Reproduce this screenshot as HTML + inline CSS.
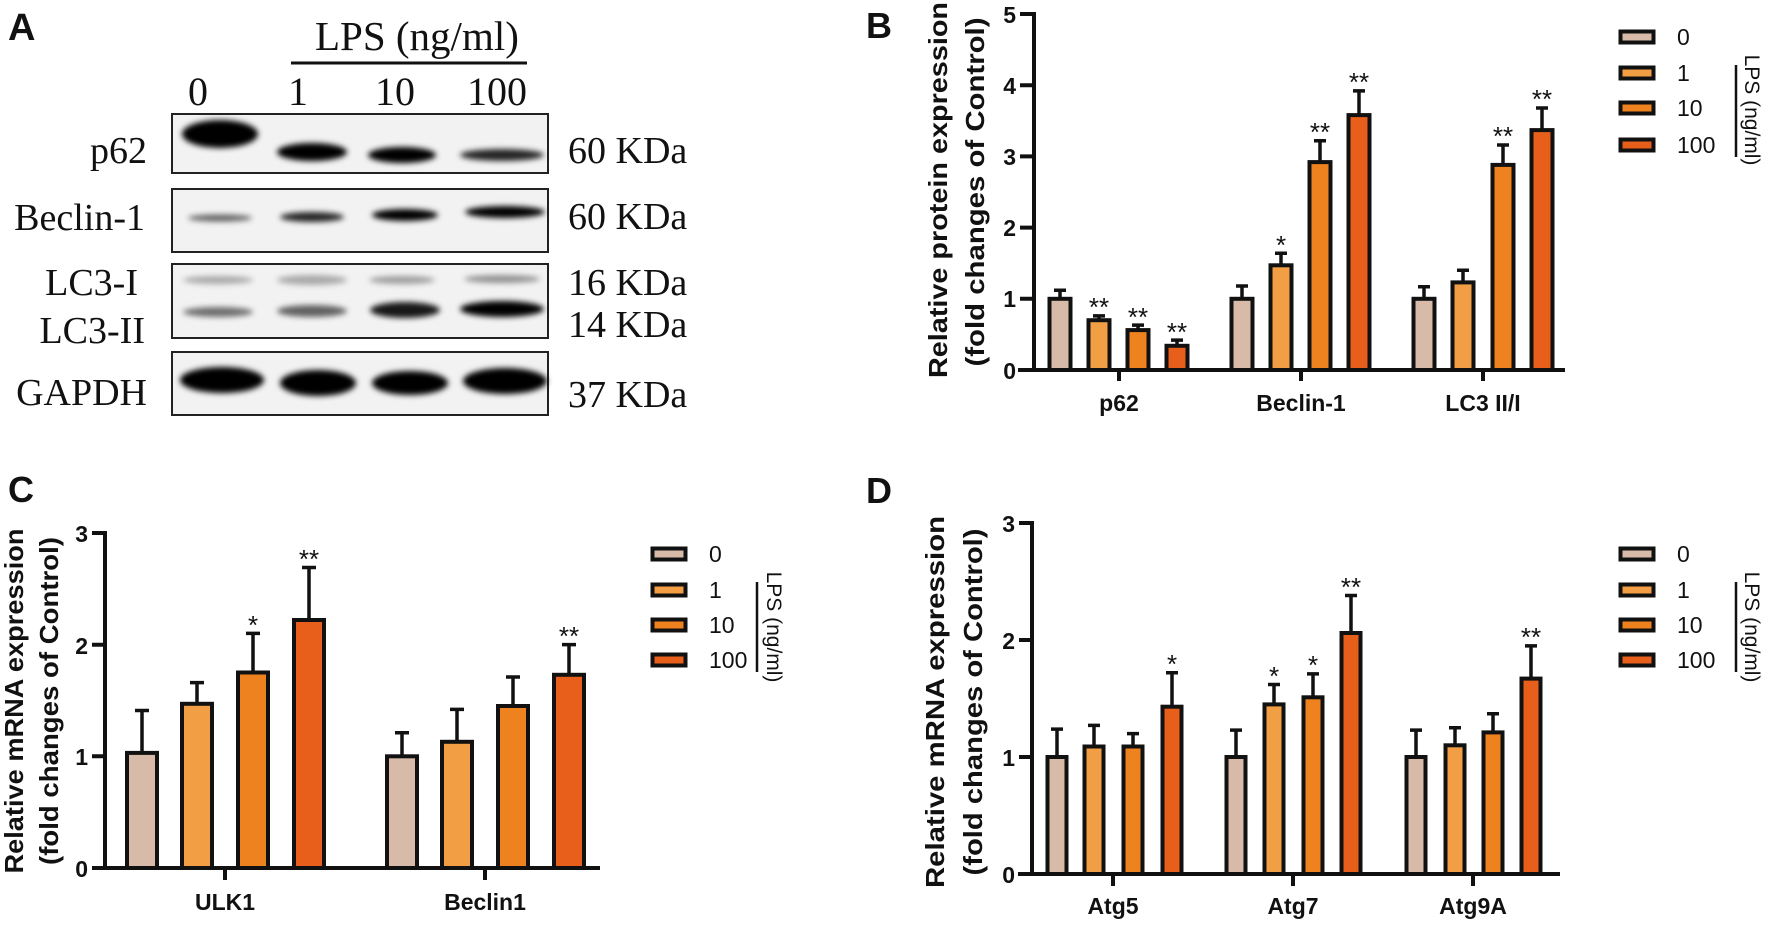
<!DOCTYPE html>
<html><head><meta charset="utf-8"><style>
html,body{margin:0;padding:0;background:#fff;}
svg{display:block;}
.t{font-family:"Liberation Serif",serif;fill:#111;}
.s{font-family:"Liberation Sans",sans-serif;font-weight:bold;fill:#111;}
.r{font-family:"Liberation Sans",sans-serif;fill:#111;}
.ax{stroke:#111;stroke-width:4;fill:none;}
.b{stroke:#111;stroke-width:4;}
.e{stroke:#111;stroke-width:3.5;}
.c0{fill:#d7bba8}.c1{fill:#f29e45}.c2{fill:#ee821e}.c3{fill:#e85f1b}
</style></head><body>
<svg width="1772" height="926" viewBox="0 0 1772 926" xmlns="http://www.w3.org/2000/svg">
<defs><filter id="bl" x="-20%" y="-50%" width="140%" height="200%"><feGaussianBlur stdDeviation="3"/></filter></defs>
<!-- Panel A -->
<text class="s" x="8" y="40" font-size="38">A</text>
<text class="t" x="315" y="50" font-size="41">LPS (ng/ml)</text>
<line x1="291" y1="63" x2="527" y2="63" stroke="#111" stroke-width="3"/>
<g class="t" font-size="40" text-anchor="middle">
<text x="198" y="105">0</text><text x="298" y="105">1</text><text x="395" y="105">10</text><text x="497" y="105">100</text></g>
<g class="t" font-size="38" text-anchor="end">
<text x="147" y="163">p62</text><text x="145" y="230">Beclin-1</text><text x="138" y="295">LC3-I</text><text x="145" y="343">LC3-II</text><text x="147" y="405">GAPDH</text></g>
<g class="t" font-size="38">
<text x="568" y="163">60 KDa</text><text x="568" y="229">60 KDa</text><text x="568" y="295">16 KDa</text><text x="568" y="337">14 KDa</text><text x="568" y="407">37 KDa</text></g>
<g fill="#f2f2f2" stroke="#222" stroke-width="2">
<rect x="172" y="114" width="376" height="59"/><rect x="172" y="189" width="376" height="63"/>
<rect x="172" y="264" width="376" height="74"/><rect x="172" y="352" width="376" height="63"/></g>
<g filter="url(#bl)" fill="#000">
<ellipse cx="220" cy="134" rx="38" ry="14"/><ellipse cx="312" cy="152" rx="35" ry="9"/><ellipse cx="402" cy="155" rx="34" ry="8"/><ellipse cx="502" cy="155" rx="42" ry="6" opacity=".85"/>
<ellipse cx="220" cy="218" rx="32" ry="3.5" opacity=".6"/><ellipse cx="312" cy="217" rx="32" ry="5" opacity=".85"/><ellipse cx="405" cy="215" rx="33" ry="6"/><ellipse cx="505" cy="212" rx="40" ry="6"/>
<ellipse cx="218" cy="280" rx="35" ry="4" opacity=".3"/><ellipse cx="312" cy="280" rx="35" ry="5" opacity=".3"/><ellipse cx="402" cy="280" rx="33" ry="4" opacity=".35"/><ellipse cx="502" cy="279" rx="38" ry="4" opacity=".4"/>
<ellipse cx="218" cy="312" rx="35" ry="5" opacity=".55"/><ellipse cx="312" cy="311" rx="35" ry="6" opacity=".6"/><ellipse cx="405" cy="310" rx="35" ry="8" opacity=".9"/><ellipse cx="502" cy="309" rx="42" ry="8"/>
<ellipse cx="222" cy="380" rx="42" ry="13"/><ellipse cx="318" cy="383" rx="38" ry="13"/><ellipse cx="410" cy="383" rx="38" ry="12"/><ellipse cx="505" cy="381" rx="42" ry="13"/></g>

<!-- Panel B -->
<text class="s" x="866" y="38" font-size="36">B</text>
<g class="s" font-size="26" text-anchor="middle">
<text transform="translate(947,190) rotate(-90)" textLength="376" lengthAdjust="spacingAndGlyphs">Relative protein expression</text>
<text transform="translate(984,192) rotate(-90)" textLength="349" lengthAdjust="spacingAndGlyphs">(fold changes of Control)</text></g>
<path class="ax" d="M1034 12V370M1018 370H1565M1020 14H1034M1020 85.2H1034M1020 156.4H1034M1020 227.6H1034M1020 298.8H1034M1119 370V381M1301 370V381M1483 370V381"/>
<g class="s" font-size="23" text-anchor="end"><text x="1016" y="23">5</text><text x="1016" y="94">4</text><text x="1016" y="165">3</text><text x="1016" y="236">2</text><text x="1016" y="307">1</text><text x="1016" y="379">0</text></g>
<g class="s" font-size="23" text-anchor="middle"><text x="1119" y="411">p62</text><text x="1301" y="411">Beclin-1</text><text x="1483" y="411">LC3 II/I</text></g>
<g class="e"><path d="M1060 298.8V290.3M1054 290.3H1066M1099 320V315.9M1093 315.9H1105M1138 330V325.1M1132 325.1H1144M1177 345.8V340.1M1171 340.1H1183M1242 298.8V286M1236 286H1248M1281 265.3V253.2M1275 253.2H1287M1320 162.1V140.7M1314 140.7H1326M1359 115.1V90.9M1353 90.9H1365M1424 298.8V286.7M1418 286.7H1430M1463 282.4V270.3M1457 270.3H1469M1503 164.9V145M1497 145H1509M1542 130.1V108M1536 108H1548"/></g>
<g class="b">
<rect class="c0" x="1049.5" y="298.8" width="21" height="71.2"/><rect class="c1" x="1088.5" y="320.2" width="21" height="49.8"/><rect class="c2" x="1127.5" y="330.1" width="21" height="39.9"/><rect class="c3" x="1166.5" y="345.8" width="21" height="24.2"/>
<rect class="c0" x="1231.5" y="298.8" width="21" height="71.2"/><rect class="c1" x="1270.5" y="265.3" width="21" height="104.7"/><rect class="c2" x="1309.5" y="162.1" width="21" height="207.9"/><rect class="c3" x="1348.5" y="115.1" width="21" height="254.9"/>
<rect class="c0" x="1413.5" y="298.8" width="21" height="71.2"/><rect class="c1" x="1452.5" y="282.4" width="21" height="87.6"/><rect class="c2" x="1492.5" y="164.9" width="21" height="205.1"/><rect class="c3" x="1531.5" y="130.1" width="21" height="239.9"/></g>
<g class="r" font-size="26" text-anchor="middle"><text x="1099" y="316">**</text><text x="1138" y="326">**</text><text x="1177" y="341">**</text><text x="1281" y="254">*</text><text x="1320" y="141">**</text><text x="1359" y="91">**</text><text x="1503" y="145">**</text><text x="1542" y="108">**</text></g>
<!-- legend B -->
<g class="b" stroke-width="5"><rect class="c0" x="1620.5" y="31.5" width="33" height="11"/><rect class="c1" x="1620.5" y="67.5" width="33" height="11"/><rect class="c2" x="1620.5" y="102.5" width="33" height="11"/><rect class="c3" x="1620.5" y="139.5" width="33" height="11"/></g>
<g class="r" font-size="23"><text x="1677" y="45">0</text><text x="1677" y="81">1</text><text x="1677" y="116">10</text><text x="1677" y="153">100</text></g>
<line x1="1736" y1="65" x2="1736" y2="157" stroke="#111" stroke-width="2.5"/>
<text class="r" font-size="21" text-anchor="middle" transform="translate(1745,110) rotate(90)">LPS (ng/ml)</text>

<!-- Panel C -->
<text class="s" x="8" y="502" font-size="36">C</text>
<g class="s" font-size="26" text-anchor="middle">
<text transform="translate(23,701) rotate(-90)" textLength="345" lengthAdjust="spacingAndGlyphs">Relative mRNA expression</text>
<text transform="translate(58,701) rotate(-90)" textLength="328" lengthAdjust="spacingAndGlyphs">(fold changes of Control)</text></g>
<path class="ax" d="M105 531V868M92 868H600M92 533H105M92 644.7H105M92 756.3H105M225 868V880M485 868V880"/>
<g class="s" font-size="23" text-anchor="end"><text x="88" y="542">3</text><text x="88" y="654">2</text><text x="88" y="765">1</text><text x="88" y="877">0</text></g>
<g class="s" font-size="23" text-anchor="middle"><text x="225" y="910">ULK1</text><text x="485" y="910">Beclin1</text></g>
<g class="e"><path d="M142 752.9V710.5M135 710.5H149M197 703.8V682.6M190 682.6H204M253 672.5V633.4M246 633.4H260M309 620V567.5M302 567.5H316M402 756.3V732.8M395 732.8H409M457 741.8V709.4M450 709.4H464M513 706V677M506 677H520M569 674.8V644.6M562 644.6H576"/></g>
<g class="b">
<rect class="c0" x="127" y="752.9" width="30" height="115.1"/><rect class="c1" x="182" y="703.8" width="30" height="164.2"/><rect class="c2" x="238" y="672.5" width="30" height="195.5"/><rect class="c3" x="294" y="620" width="30" height="248"/>
<rect class="c0" x="387" y="756.3" width="30" height="111.7"/><rect class="c1" x="442" y="741.8" width="30" height="126.2"/><rect class="c2" x="498" y="706" width="30" height="162"/><rect class="c3" x="554" y="674.8" width="30" height="193.2"/></g>
<g class="r" font-size="26" text-anchor="middle"><text x="253" y="634">*</text><text x="309" y="568">**</text><text x="569" y="645">**</text></g>
<g class="b" stroke-width="5"><rect class="c0" x="652.5" y="548.5" width="33" height="11"/><rect class="c1" x="652.5" y="584.5" width="33" height="11"/><rect class="c2" x="652.5" y="619.5" width="33" height="11"/><rect class="c3" x="652.5" y="654.5" width="33" height="11"/></g>
<g class="r" font-size="23"><text x="709" y="562">0</text><text x="709" y="598">1</text><text x="709" y="633">10</text><text x="709" y="668">100</text></g>
<line x1="757" y1="582" x2="757" y2="672" stroke="#111" stroke-width="2.5"/>
<text class="r" font-size="21" text-anchor="middle" transform="translate(767,627) rotate(90)">LPS (ng/ml)</text>

<!-- Panel D -->
<text class="s" x="866" y="503" font-size="36">D</text>
<g class="s" font-size="26" text-anchor="middle">
<text transform="translate(944,702) rotate(-90)" textLength="372" lengthAdjust="spacingAndGlyphs">Relative mRNA expression</text>
<text transform="translate(982,702) rotate(-90)" textLength="347" lengthAdjust="spacingAndGlyphs">(fold changes of Control)</text></g>
<path class="ax" d="M1032 521V874M1018 874H1560M1019 523H1032M1019 640H1032M1019 757H1032M1113 874V886M1293 874V886M1473 874V886"/>
<g class="s" font-size="23" text-anchor="end"><text x="1015" y="532">3</text><text x="1015" y="649">2</text><text x="1015" y="766">1</text><text x="1015" y="883">0</text></g>
<g class="s" font-size="23" text-anchor="middle"><text x="1113" y="914">Atg5</text><text x="1293" y="914">Atg7</text><text x="1473" y="914">Atg9A</text></g>
<g class="e"><path d="M1057 757V729.1M1051 729.1H1063M1094 746.5V725.4M1088 725.4H1100M1133 746.5V733.6M1127 733.6H1139M1172 706.7V672.8M1166 672.8H1178M1236 757V730.1M1230 730.1H1242M1274 704.4V684.5M1268 684.5H1280M1313 697.3V673.9M1307 673.9H1319M1351 633V595.5M1345 595.5H1357M1416 757V730.1M1410 730.1H1422M1455 745.3V727.8M1449 727.8H1461M1493 732.4V713.7M1487 713.7H1499M1531 678.6V645.9M1525 645.9H1537"/></g>
<g class="b">
<rect class="c0" x="1047.5" y="757" width="19" height="117"/><rect class="c1" x="1084.5" y="746.5" width="19" height="127.5"/><rect class="c2" x="1123.5" y="746.5" width="19" height="127.5"/><rect class="c3" x="1162.5" y="706.7" width="19" height="167.3"/>
<rect class="c0" x="1226.5" y="757" width="19" height="117"/><rect class="c1" x="1264.5" y="704.4" width="19" height="169.6"/><rect class="c2" x="1303.5" y="697.3" width="19" height="176.7"/><rect class="c3" x="1341.5" y="633" width="19" height="241"/>
<rect class="c0" x="1406.5" y="757" width="19" height="117"/><rect class="c1" x="1445.5" y="745.3" width="19" height="128.7"/><rect class="c2" x="1483.5" y="732.4" width="19" height="141.6"/><rect class="c3" x="1521.5" y="678.6" width="19" height="195.4"/></g>
<g class="r" font-size="26" text-anchor="middle"><text x="1172" y="673">*</text><text x="1274" y="685">*</text><text x="1313" y="674">*</text><text x="1351" y="596">**</text><text x="1531" y="646">**</text></g>
<g class="b" stroke-width="5"><rect class="c0" x="1620.5" y="548.5" width="33" height="11"/><rect class="c1" x="1620.5" y="584.5" width="33" height="11"/><rect class="c2" x="1620.5" y="619.5" width="33" height="11"/><rect class="c3" x="1620.5" y="654.5" width="33" height="11"/></g>
<g class="r" font-size="23"><text x="1677" y="562">0</text><text x="1677" y="598">1</text><text x="1677" y="633">10</text><text x="1677" y="668">100</text></g>
<line x1="1736" y1="582" x2="1736" y2="672" stroke="#111" stroke-width="2.5"/>
<text class="r" font-size="21" text-anchor="middle" transform="translate(1745,627) rotate(90)">LPS (ng/ml)</text>
</svg>
</body></html>
